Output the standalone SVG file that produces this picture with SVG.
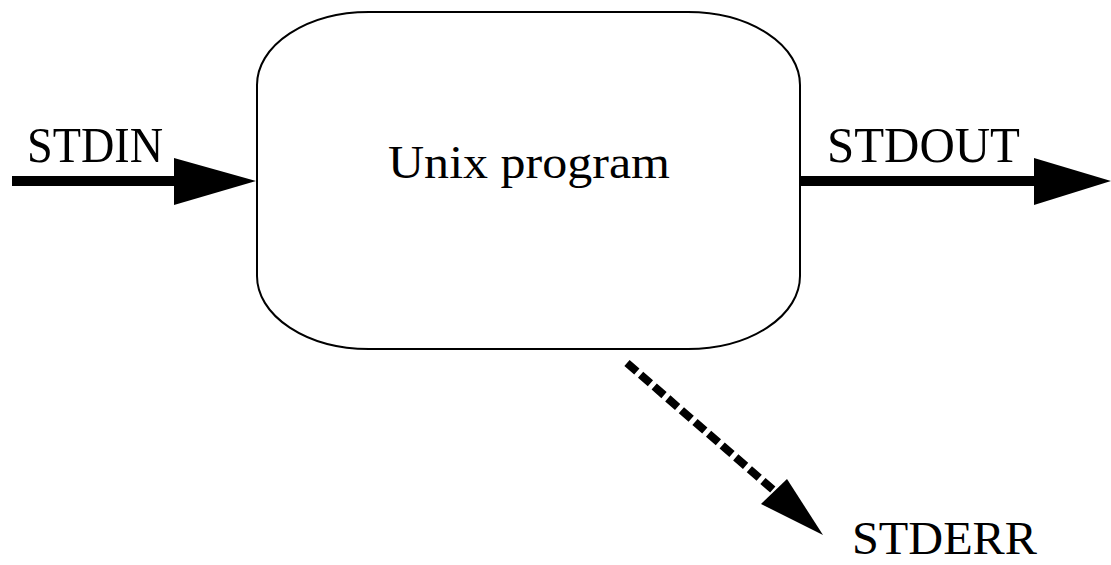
<svg xmlns="http://www.w3.org/2000/svg" width="1111" height="565" viewBox="0 0 1111 565">
  <style>
    .label { font-family: "Liberation Serif", "Times New Roman", serif; fill: #000; }
    .box { fill: #fff; stroke: #000; stroke-width: 2; }
    .flow { stroke: #000; stroke-width: 10; fill: none; }
    .err { stroke: #000; stroke-width: 8; fill: none; stroke-dasharray: 13 5; stroke-linecap: butt; }
    .head { fill: #000; stroke: none; }
  </style>
  <rect width="1111" height="565" fill="#fff"/>

  <!-- the program itself -->
  <g id="program">
    <rect class="box" x="257" y="12" width="543" height="337" rx="112" ry="73"/>
    <text class="label" x="388" y="178" font-size="46" textLength="282" lengthAdjust="spacingAndGlyphs">Unix program</text>
  </g>

  <!-- standard streams -->
  <g id="stdin">
    <text class="label" x="27" y="162" font-size="50" textLength="136" lengthAdjust="spacingAndGlyphs">STDIN</text>
  </g>
  <g id="stdout">
    <text class="label" x="827" y="162" font-size="50" textLength="193" lengthAdjust="spacingAndGlyphs">STDOUT</text>
  </g>
  <g id="stderr">
    <text class="label" x="852" y="554" font-size="46" textLength="185" lengthAdjust="spacingAndGlyphs">STDERR</text>
  </g>

  <!-- connectors -->
  <g id="connectors">
    <line class="flow" x1="12" y1="181" x2="180" y2="181"/>
    <polygon class="head" points="174,158 256,181 174,205"/>

    <line class="flow" x1="800" y1="181" x2="1040" y2="181"/>
    <polygon class="head" points="1034,158 1111,181 1034,205"/>

    <line class="err" x1="627" y1="363" x2="778" y2="494"/>
    <polygon class="head" points="787,479 823,535 761,504"/>
  </g>
</svg>
